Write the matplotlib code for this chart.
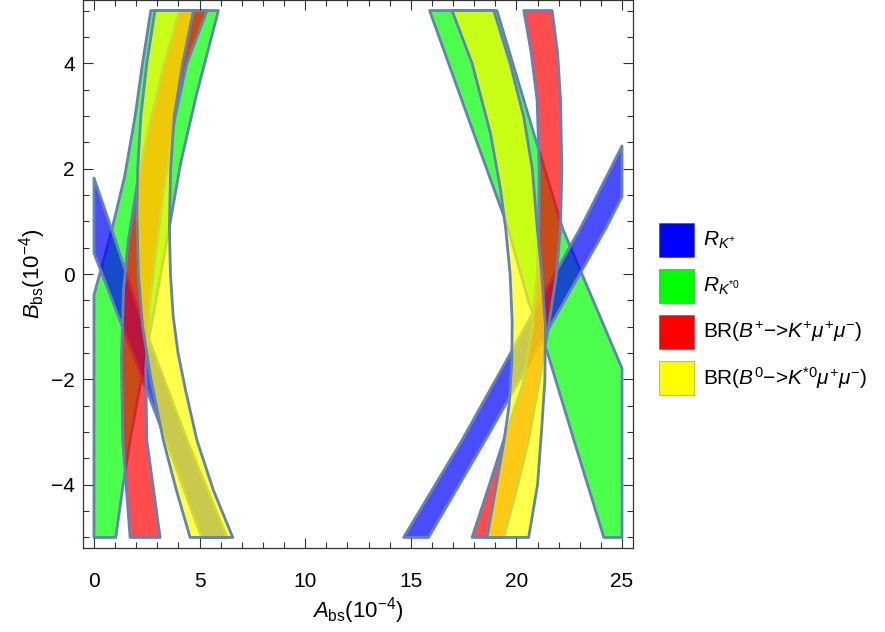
import matplotlib
matplotlib.use("Agg")
import matplotlib.pyplot as plt
from matplotlib.patches import Polygon, Rectangle
import numpy as np

plt.rcParams['font.family'] = ['Liberation Sans', 'DejaVu Sans']
plt.rcParams['mathtext.fontset'] = 'custom'
plt.rcParams['mathtext.rm'] = 'Liberation Sans'
plt.rcParams['mathtext.it'] = 'Liberation Sans:italic'
plt.rcParams['mathtext.bf'] = 'Liberation Sans:bold'

# ---------------- data: region outlines (A_bs, B_bs) ----------------
# R_K+ (blue): two straight-ish bands
blue_left_x = [0.0, 0.85, 2.34, 4.4, 6.3, 5.1, 3.4, 0.75, 0.0]
blue_left_y = [1.82, 0.83, -0.97, -3.15, -5.0, -5.0, -3.15, -0.38, 0.40]
blue_right_x = [14.66, 17.43, 23.11, 25.0, 25.0, 24.25, 18.53, 15.84]
blue_right_y = [-5.0, -3.15, 0.93, 2.43, 1.47, 0.88, -3.15, -5.0]

# R_K*0 (green)
green_left_x = [0.0, 1.03, 1.39, 1.71, 2.57, 3.6, 4.1, 4.85, 5.89,
                2.69, 2.3, 1.95, 1.45, 0.84, 0.0]
green_left_y = [-5.0, -5.0, -3.97, -3.15, -1.28, 0.96, 2.1, 3.4, 5.0,
                5.0, 4.0, 3.0, 1.85, 0.83, -0.40]
green_right_x = [15.89, 19.08, 20.82, 22.2, 25.0, 25.0, 24.14, 22.72,
                 21.45, 20.58, 19.56, 17.98]
green_right_y = [5.0, 5.0, 2.67, 0.85, -1.79, -5.0, -5.0, -3.15,
                 -1.47, -0.53, 0.93, 2.67]

# BR(B+ -> K+ mu mu) (red): left / right edge of each band, listed top -> bottom
red_l_edge1_x = [4.05, 3.3, 2.65, 2.1, 1.63, 1.40, 1.30, 1.36, 1.71]
red_l_edge1_y = [5.0, 3.95, 2.86, 1.85, 0.65, -0.3, -1.6, -3.15, -5.0]
red_l_edge2_x = [5.35, 4.4, 3.85, 3.3, 3.0, 2.65, 2.45, 2.50, 3.13]
red_l_edge2_y = [5.0, 4.0, 3.0, 1.6, 0.65, -0.5, -1.8, -3.15, -5.0]
red_r_edge1_x = [20.35, 20.7, 20.98, 21.08, 21.06, 20.98, 20.75, 20.3, 19.4, 18.68, 17.9]
red_r_edge1_y = [5.0, 4.2, 3.3, 2.0, 0.9, 0.0, -1.0, -2.1, -3.15, -4.05, -5.0]
red_r_edge2_x = [21.69, 21.95, 22.09, 22.15, 22.09, 21.9, 21.53, 21.1, 20.58, 20.0, 19.4]
red_r_edge2_y = [5.0, 4.2, 3.3, 2.0, 0.9, 0.0, -0.97, -2.0, -3.15, -4.1, -5.0]

# BR(B0 -> K*0 mu mu) (yellow)
yel_l_edge1_x = [2.89, 2.5, 2.22, 2.07, 2.03, 2.1, 2.3, 2.7, 3.28, 3.9, 4.55]
yel_l_edge1_y = [5.0, 4.0, 3.0, 2.0, 1.2, 0.0, -1.0, -2.0, -3.15, -4.1, -5.0]
yel_l_edge2_x = [4.71, 4.2, 3.8, 3.63, 3.57, 3.62, 3.75, 3.98, 4.35, 4.87, 5.65, 6.57]
yel_l_edge2_y = [5.0, 4.0, 3.0, 2.0, 0.9, 0.0, -0.8, -1.5, -2.23, -3.15, -4.1, -5.0]
yel_r_edge1_x = [16.95, 17.9, 18.77, 19.25, 19.5, 19.7, 19.8, 19.78, 19.65, 19.4, 19.05, 18.61]
yel_r_edge1_y = [5.0, 4.0, 2.67, 1.6, 0.83, 0.0, -0.9, -1.7, -2.5, -3.2, -4.0, -5.0]
yel_r_edge2_x = [18.93, 19.7, 20.35, 20.75, 20.98, 21.2, 21.37, 21.35, 21.21, 21.0, 20.58]
yel_r_edge2_y = [5.0, 4.0, 2.98, 2.0, 0.9, 0.0, -0.97, -2.0, -2.86, -4.0, -5.0]

labels = [r"$R_{K^{+}}$", r"$R_{K^{*0}}$",
          r"BR($B^{+}$−>$K^{+}\mu^{+}\mu^{-}$)",
          r"BR($B^{0}$−>$K^{*0}\mu^{+}\mu^{-}$)"]
colors = ["#0000ff", "#00ff00", "#ff0000", "#ffff00"]

edge_col = "#6283B6"
alpha = 0.7


def band(e1x, e1y, e2x, e2y):
    xs = list(e1x) + list(e2x)[::-1]
    ys = list(e1y) + list(e2y)[::-1]
    return np.column_stack([xs, ys])


fig = plt.figure(figsize=(8.85, 6.32), dpi=100)
ax = fig.add_axes([83 / 885, (632 - 548) / 632, 550 / 885, 548 / 632])


def add_poly(pts, color):
    p = Polygon(pts, closed=True, facecolor=matplotlib.colors.to_rgba(color, alpha),
                edgecolor=edge_col, linewidth=2.0, joinstyle='round')
    ax.add_patch(p)


# draw order: green, blue, red, yellow
add_poly(np.column_stack([green_left_x, green_left_y]), colors[1])
add_poly(np.column_stack([green_right_x, green_right_y]), colors[1])
add_poly(np.column_stack([blue_left_x, blue_left_y]), colors[0])
add_poly(np.column_stack([blue_right_x, blue_right_y]), colors[0])
add_poly(band(red_l_edge1_x, red_l_edge1_y, red_l_edge2_x, red_l_edge2_y), colors[2])
add_poly(band(red_r_edge1_x, red_r_edge1_y, red_r_edge2_x, red_r_edge2_y), colors[2])
add_poly(band(yel_l_edge1_x, yel_l_edge1_y, yel_l_edge2_x, yel_l_edge2_y), colors[3])
add_poly(band(yel_r_edge1_x, yel_r_edge1_y, yel_r_edge2_x, yel_r_edge2_y), colors[3])

ax.set_xlim(-0.52, 25.52)
ax.set_ylim(-5.2, 5.2)
ax.set_xticks([0, 5, 10, 15, 20, 25])
ax.set_yticks([-4, -2, 0, 2, 4])
ax.set_xticks(np.arange(0, 26, 1), minor=True)
ax.set_yticks(np.arange(-5, 5.01, 0.5), minor=True)
ax.tick_params(which='both', direction='in', top=True, right=True, color='#333333',
               width=0.8, labelsize=15)
ax.tick_params(which='major', length=7)
ax.tick_params(which='minor', length=4)
ax.tick_params(axis='x', pad=17)
ax.tick_params(axis='y', pad=6)
for s in ax.spines.values():
    s.set_color('#333333')
    s.set_linewidth(0.9)

ax.set_xlabel(r"$A_{\rm bs}(10^{-4})$", fontsize=16, labelpad=3)
ax.set_ylabel(r"$B_{\rm bs}(10^{-4})$", fontsize=16, labelpad=2)

# legend (manual, to the right of the frame)
sw_x, sw_w, sw_h = 659, 35, 34
sw_y0, sw_dy = 223, 46
for i, (lab, c) in enumerate(zip(labels, colors)):
    top = sw_y0 + i * sw_dy
    r = Rectangle((sw_x / 885, 1 - (top + sw_h) / 632), sw_w / 885, sw_h / 632,
                  transform=fig.transFigure, facecolor=c,
                  edgecolor=matplotlib.colors.to_rgba('k', 0.25), linewidth=0.8)
    fig.patches.append(r)
    fig.text(703 / 885, 1 - (top + sw_h / 2) / 632, lab, fontsize=15,
             va='center', ha='left')

fig.savefig("out.png", dpi=100)
